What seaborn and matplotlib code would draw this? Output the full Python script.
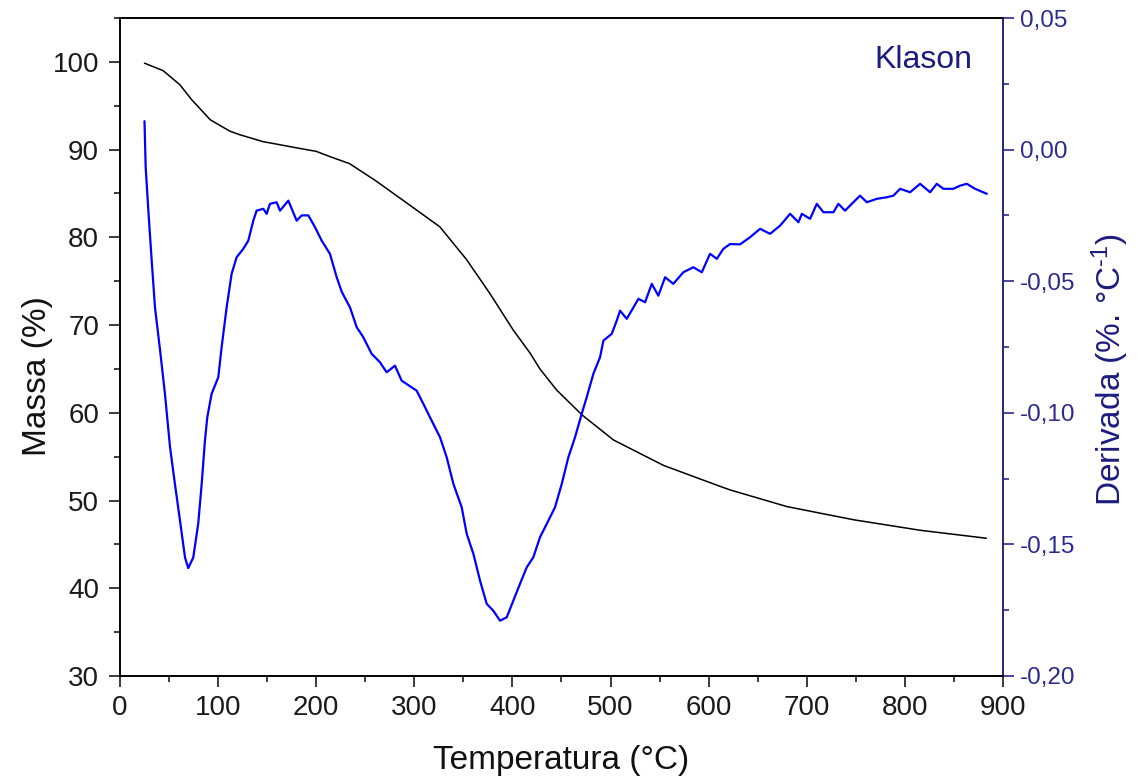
import numpy as np
import pandas as pd
import matplotlib
matplotlib.use('Agg')
import matplotlib.pyplot as plt
import seaborn as sns
from matplotlib.ticker import MultipleLocator, FuncFormatter

# TG curve (mass %)
temp_mass = [25, 44, 61, 73, 92, 112, 122, 146, 156, 180, 200, 214, 234, 260,
             285, 326, 353, 377, 401, 418, 428, 445, 471, 503, 554, 612, 622,
             680, 748, 816, 883]
mass = [99.85, 99.0, 97.4, 95.7, 93.4, 92.1, 91.7, 90.9, 90.7, 90.2, 89.8, 89.2,
        88.4, 86.5, 84.5, 81.2, 77.5, 73.6, 69.4, 66.8, 65.0, 62.6, 59.75, 56.9,
        54.0, 51.6, 51.2, 49.3, 47.8, 46.6, 45.7]

# DTG curve (derivative)
temp_deriv = [25.0, 26.2, 28.9, 32.3, 35.7, 40.8, 45.9, 51.0, 56.0, 61.2, 66.3, 69.6,
              74.7, 79.8, 83.3, 86.6, 89.0, 93.4, 100.2, 103.6, 108.7, 113.8, 118.9,
              125.7, 130.8, 135.9, 139.3, 146.1, 149.5, 152.9, 159.7, 163.1, 171.6,
              180.1, 185.2, 192.0, 198.8, 205.6, 214.0, 220.9, 226.0, 234.5, 241.3,
              248.0, 256.5, 265.0, 271.8, 280.3, 287.1, 302.4, 309.2, 317.7, 326.2,
              333.0, 339.8, 348.3, 353.4, 360.2, 367.0, 373.8, 380.5, 387.4, 394.2,
              400.9, 407.7, 414.6, 421.3, 428.1, 435.0, 443.4, 450.3, 457.0, 463.8,
              470.6, 475.7, 482.5, 489.3, 492.7, 501.2, 506.3, 509.7, 516.5, 523.3,
              528.4, 535.2, 542.0, 548.7, 555.6, 564.0, 574.2, 584.4, 593.0, 601.4,
              608.3, 615.0, 621.8, 632.0, 642.2, 652.4, 662.6, 672.8, 683.0, 691.5,
              695.0, 703.4, 710.2, 717.0, 727.2, 732.2, 739.0, 747.5, 754.3, 761.2,
              771.4, 781.6, 788.3, 795.1, 805.3, 815.5, 825.7, 832.5, 839.3, 849.4,
              856.3, 863.1, 871.6, 883.5]
deriv = [0.0108, -0.0067, -0.023, -0.042, -0.060, -0.076, -0.093, -0.113, -0.127,
         -0.141, -0.155, -0.159, -0.155, -0.142, -0.127, -0.1106, -0.1017, -0.0928,
         -0.0865, -0.0751, -0.060, -0.0472, -0.0409, -0.0377, -0.0346, -0.027,
         -0.0232, -0.0225, -0.0244, -0.0206, -0.020, -0.0232, -0.0194, -0.027,
         -0.025, -0.025, -0.0295, -0.0346, -0.0396, -0.0485, -0.054, -0.060,
         -0.0675, -0.0713, -0.0776, -0.0808, -0.0846, -0.0821, -0.0878, -0.0916,
         -0.0966, -0.103, -0.1093, -0.1169, -0.127, -0.1359, -0.146, -0.1536,
         -0.1638, -0.1726, -0.1752, -0.179, -0.1777, -0.1714, -0.165, -0.1587,
         -0.1549, -0.1473, -0.1422, -0.1359, -0.127, -0.1169, -0.1093, -0.1004,
         -0.0941, -0.0852, -0.0789, -0.0726, -0.070, -0.065, -0.0612, -0.0643,
         -0.060, -0.0567, -0.058, -0.051, -0.0555, -0.0485, -0.051, -0.0466,
         -0.0447, -0.0466, -0.0396, -0.0415, -0.0377, -0.0359, -0.036, -0.0333,
         -0.0301, -0.032, -0.0289, -0.0244, -0.0276, -0.0244, -0.0263, -0.0206,
         -0.0238, -0.0238, -0.0206, -0.0232, -0.020, -0.0175, -0.020, -0.0187,
         -0.0181, -0.0175, -0.0149, -0.0162, -0.013, -0.0162, -0.013, -0.0149,
         -0.0149, -0.0137, -0.013, -0.0149, -0.0168]

sns.set_style('ticks')
plt.rcParams['font.family'] = ['Liberation Sans', 'DejaVu Sans']
plt.rcParams['mathtext.default'] = 'regular'

navy = '#2b2b8f'
label_navy = '#1c1c80'

fig, ax = plt.subplots(figsize=(11.48, 7.83), dpi=100)
fig.subplots_adjust(left=0.1045, right=0.8737, top=0.977, bottom=0.1367)

sns.lineplot(x=temp_mass, y=mass, ax=ax, color='black', linewidth=1.1)
ax2 = ax.twinx()
sns.lineplot(x=temp_deriv, y=deriv, ax=ax2, color='#0000ff', linewidth=1.6)

ax.set_xlim(0, 900)
ax.set_ylim(30, 105)
ax2.set_ylim(-0.20, 0.05)

ax.xaxis.set_major_locator(MultipleLocator(100))
ax.xaxis.set_minor_locator(MultipleLocator(50))
ax.yaxis.set_minor_locator(MultipleLocator(5))
ax.set_yticks(np.arange(30, 101, 10))
ax2.yaxis.set_major_locator(MultipleLocator(0.05))
ax2.yaxis.set_minor_locator(MultipleLocator(0.025))
ax2.yaxis.set_major_formatter(FuncFormatter(lambda v, p: f"{v:.2f}".replace('.', ',')))

for a in (ax, ax2):
    for s in a.spines.values():
        s.set_linewidth(1.2)
        s.set_color('black')
ax2.spines['right'].set_color(navy)

ax.tick_params(axis='both', which='major', length=8, width=1.2, labelsize=20,
               pad=6, colors='#1a1a1a')
ax.tick_params(axis='y', which='major', pad=7)
ax.tick_params(axis='both', which='minor', length=4.5, width=1.2, colors='#1a1a1a')
ax2.tick_params(axis='y', which='major', length=8, width=1.2, labelsize=17.5,
                pad=4, colors=navy)
ax2.tick_params(axis='y', which='minor', length=4.5, width=1.2, colors=navy)

ax.set_xlabel('Temperatura (°C)', fontsize=24, color='#111111')
ax.set_ylabel('Massa (%)', fontsize=24, color='#111111')
ax2.set_ylabel('Derivada (%. °C$^{\u2010 1}$)', fontsize=24, color=label_navy)
ax.xaxis.set_label_coords(0.5, -0.105)
ax.yaxis.set_label_coords(-0.076, 0.456)
ax2.yaxis.set_label_coords(1.0985, 0.465)

ax.text(0.965, 0.924, 'Klason', transform=ax.transAxes, fontsize=23,
        color=label_navy, ha='right', va='baseline')

fig.savefig('out.png', dpi=100)
